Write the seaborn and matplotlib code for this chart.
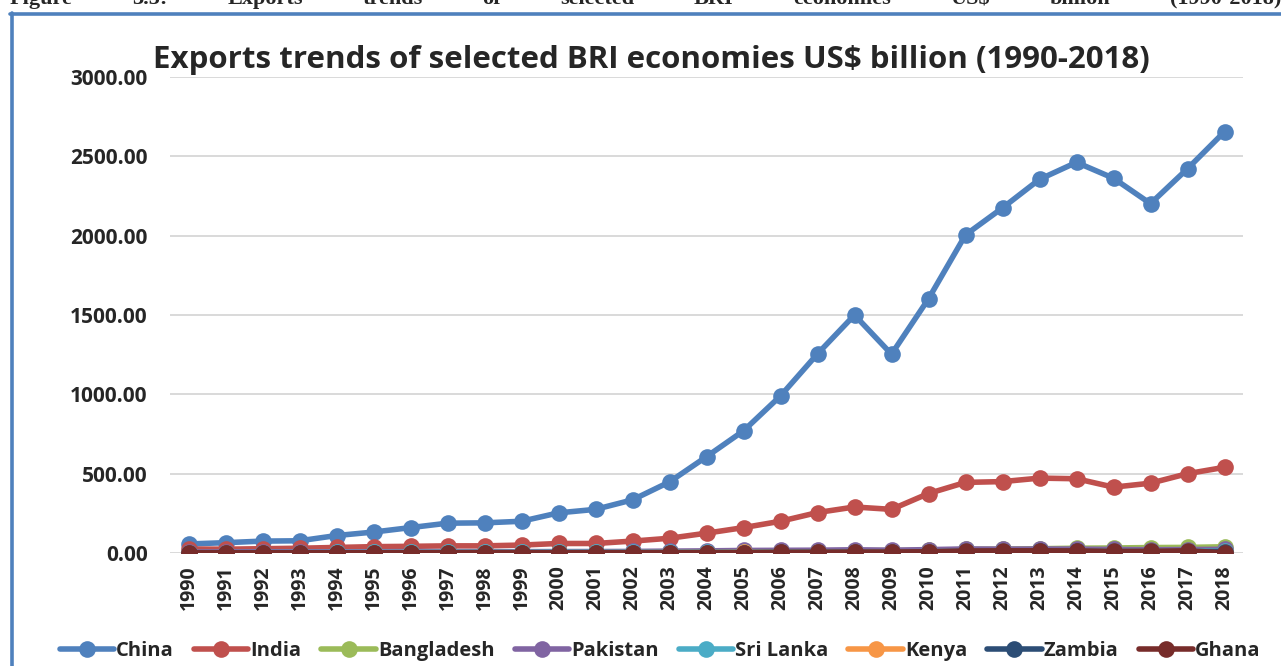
import matplotlib
matplotlib.use("Agg")
import matplotlib.pyplot as plt
from matplotlib.lines import Line2D
import numpy as np
import pandas as pd
import seaborn as sns

years = list(range(1990, 2019))
countries = ["China", "India", "Bangladesh", "Pakistan", "Sri Lanka", "Kenya", "Zambia", "Ghana"]
colors = ["#4F81BD", "#C0504D", "#9BBB59", "#8064A2", "#4BACC6", "#F79646", "#2C4D75", "#772C2A"]

# Exports, US$ billion
china = [57, 65, 75, 77, 110, 132, 160, 188, 190, 200, 253, 275, 335, 448, 607, 770, 990, 1255,
         1500, 1253, 1602, 2005, 2175, 2355, 2462, 2362, 2202, 2422, 2655]
india = [25, 24, 27, 30, 35, 40, 42, 45, 45, 50, 60, 60, 75, 93, 125, 160, 200, 255,
         290, 275, 375, 445, 450, 472, 468, 415, 440, 500, 540]
bangladesh = [1.7, 1.7, 2.1, 2.4, 2.7, 3.5, 3.9, 4.4, 5.2, 5.3, 5.8, 6.5, 6.0, 6.5, 7.6, 8.7, 10.5, 12.2,
              14.1, 15.6, 16.2, 22.9, 24.3, 27.0, 30.2, 31.7, 34.3, 35.3, 39.3]
pakistan = [5.6, 6.5, 7.3, 6.8, 7.4, 8.0, 9.3, 8.7, 8.5, 8.4, 9.0, 9.2, 9.9, 11.9, 13.4, 16.1, 16.9, 17.8,
            20.3, 17.7, 21.4, 25.4, 24.6, 25.1, 24.7, 22.2, 20.5, 21.9, 23.2]
sri_lanka = [1.9, 2.0, 2.5, 2.9, 3.2, 3.8, 4.1, 4.6, 4.7, 4.6, 5.4, 4.8, 4.7, 5.1, 5.8, 6.3, 6.9, 7.6,
             8.1, 7.1, 8.6, 10.6, 9.8, 10.4, 11.1, 10.5, 10.3, 11.4, 11.9]
kenya = [1.0, 1.1, 1.0, 1.3, 1.5, 1.9, 2.1, 2.0, 2.0, 1.7, 1.7, 1.9, 2.1, 2.4, 2.7, 3.4, 3.5, 4.1,
         5.0, 4.5, 5.2, 5.8, 6.1, 5.8, 6.1, 5.9, 5.7, 5.8, 6.1]
zambia = [1.3, 1.1, 1.1, 1.1, 1.1, 1.2, 1.0, 1.1, 0.8, 0.8, 0.8, 0.9, 0.9, 1.0, 1.6, 1.8, 3.8, 4.6,
          5.1, 4.3, 7.2, 8.7, 9.4, 10.6, 9.7, 7.0, 6.5, 8.2, 9.0]
ghana = [0.9, 1.0, 1.0, 1.1, 1.2, 1.4, 1.6, 1.5, 2.1, 2.0, 1.9, 1.9, 2.1, 2.5, 2.8, 2.8, 3.7, 4.2,
         5.3, 5.8, 7.9, 12.8, 13.6, 13.8, 13.2, 10.4, 11.1, 13.8, 1.0]

series = [china, india, bangladesh, pakistan, sri_lanka, kenya, zambia, ghana]
y_ticks = [0, 500, 1000, 1500, 2000, 2500, 3000]
caption = "Figure 3.5: Exports trends of selected BRI economies US$ billion (1990-2018)"
title = "Exports trends of selected BRI economies US$ billion (1990-2018)"

frames = []
for name, vals in zip(countries, series):
    frames.append(pd.DataFrame({"pos": np.arange(len(years)), "year": years,
                                "country": name, "value": vals}))
df = pd.concat(frames, ignore_index=True)

sns.set_style("white")
plt.rcParams["font.family"] = ["Open Sans", "DejaVu Sans"]

W, H = 1281, 666
fig = plt.figure(figsize=(W / 100, H / 100), dpi=100)
ax = fig.add_axes([170 / W, (H - 553) / H, 1073 / W, 476 / H])

LW, MS = 4.0, 12

sns.lineplot(data=df, x="pos", y="value", hue="country", hue_order=countries,
             palette=colors, marker="o", markersize=MS, markeredgewidth=0,
             linewidth=LW, sort=False, ax=ax, legend=False)

ax.set_xlim(-0.5, len(years) - 0.5)
ax.set_ylim(0, 3000)
ax.set_xticks(np.arange(len(years)))
ax.set_xticklabels([str(y) for y in years], rotation=90, fontsize=14, fontweight="bold")
ax.set_yticks(y_ticks)
ax.set_yticklabels([f"{v:.2f}" for v in y_ticks], fontsize=15, fontweight="bold")
ax.tick_params(axis="both", length=0)
ax.tick_params(axis="y", pad=16)
ax.tick_params(axis="x", pad=9)
ax.set_xlabel("")
ax.set_ylabel("")
ax.grid(axis="y", color="#D9D9D9", linewidth=1.4)
ax.set_axisbelow(True)
for s in ax.spines.values():
    s.set_visible(False)

# chart title
fig.text(651 / W, 1 - 68 / H, title, ha="center", va="baseline",
         fontsize=22.5, fontweight="bold")

# legend along the bottom
handles = [Line2D([0], [0], color=c, marker="o", markersize=MS, markeredgewidth=0,
                  linewidth=LW) for c in colors]
fig.legend(handles, countries, loc="center", bbox_to_anchor=(660 / W, 1 - 651 / H),
           ncol=len(countries), frameon=False, handlelength=2.7, handletextpad=0.1,
           columnspacing=1.0, prop={"weight": "bold", "size": 14.5})

# caption line above the chart frame, fully justified across the width
words = caption.split(" ")
serif = ["Liberation Serif", "DejaVu Serif"]
renderer = fig.canvas.get_renderer()
texts = [fig.text(0, 1 - 4 / H, w, ha="left", va="baseline", fontsize=16,
                  fontweight="bold", family=serif) for w in words]
widths = [t.get_window_extent(renderer=renderer).width for t in texts]
x0, x1 = 10.0, 1281.0
gap = (x1 - x0 - sum(widths)) / (len(words) - 1)
xpos = x0
for t, wd in zip(texts, widths):
    t.set_x(xpos / W)
    xpos += wd + gap

# chart frame edges
fig.add_artist(Line2D([10 / W, 1.0], [1 - 13.5 / H, 1 - 13.5 / H], color="#4F81BD",
                      linewidth=2.6, transform=fig.transFigure))
fig.add_artist(Line2D([11.5 / W, 11.5 / W], [1 - 12.5 / H, 0], color="#4F81BD",
                      linewidth=2.6, transform=fig.transFigure))

fig.savefig("out.png", dpi=100)
